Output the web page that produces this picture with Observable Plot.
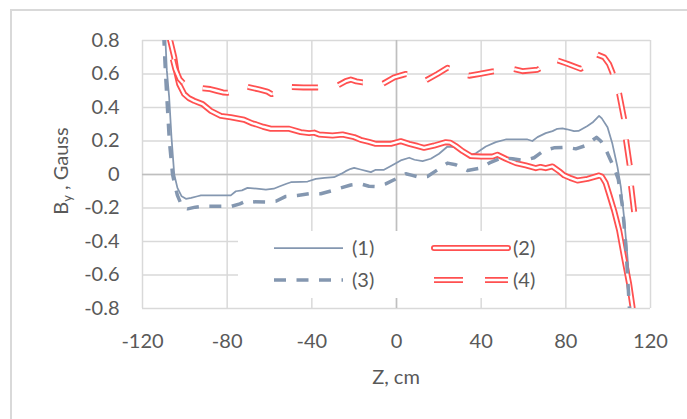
<!DOCTYPE html>
<html><head><meta charset="utf-8">
<script src="https://cdn.jsdelivr.net/npm/d3@7"></script>
<script src="https://cdn.jsdelivr.net/npm/@observablehq/plot@0.6"></script>
<style>
body{margin:0;background:#fff;}
#chart{position:absolute;left:0;top:0;width:687px;height:419px;overflow:hidden;}
</style></head><body>
<div id="chart"></div>
<script>
// ---- data: [Z (cm), By (Gauss)] ----
const seriesNames = ["(1)", "(2)", "(3)", "(4)"];
const xTicks = [-120, -80, -40, 0, 40, 80, 120];
const yTicks = [-0.8, -0.6, -0.4, -0.2, 0, 0.2, 0.4, 0.6, 0.8];

const series1 = [[-109.3,0.84],[-108.5,0.62],[-107.4,0.46],[-106.3,0.22],[-105,0.0],[-103.5,-0.08],[-101.5,-0.13],[-99.5,-0.145],[-97,-0.14],[-94,-0.13],[-92.4,-0.125],[-85,-0.125],[-78.3,-0.125],[-75.9,-0.10],[-73,-0.095],[-70.4,-0.08],[-66,-0.085],[-61.7,-0.09],[-58,-0.085],[-55.4,-0.072],[-52,-0.055],[-49.9,-0.046],[-45,-0.044],[-42,-0.042],[-38.1,-0.026],[-34,-0.02],[-29.5,-0.016],[-26,0.005],[-24,0.02],[-21.6,0.034],[-20,0.04],[-17,0.03],[-14,0.02],[-12.1,0.014],[-9.8,0.028],[-5.9,0.028],[-2,0.055],[2,0.084],[6,0.1],[8.5,0.088],[12.3,0.08],[16.2,0.094],[20.1,0.124],[24.1,0.167],[27.2,0.163],[30.4,0.143],[34.3,0.113],[37.5,0.127],[42.2,0.167],[46.9,0.193],[51.6,0.209],[56,0.21],[61.9,0.209],[64.2,0.2],[66.6,0.223],[70.5,0.247],[73.7,0.259],[76,0.273],[78.4,0.275],[80.5,0.27],[83.9,0.259],[86,0.26],[90.2,0.29],[92.6,0.31],[95.7,0.35],[97,0.335],[99.7,0.282],[102,0.183],[104.4,0.044],[106,-0.076],[107.5,-0.255],[109.1,-0.49],[110.7,-0.77],[111.3,-0.86]];

const series2 = [[-107.5,0.86],[-106.9,0.8],[-105,0.70],[-103.8,0.6],[-102.7,0.54],[-100.3,0.48],[-98,0.455],[-95.6,0.44],[-91.6,0.42],[-87.7,0.38],[-83,0.35],[-78.3,0.342],[-72,0.327],[-68,0.305],[-66.5,0.30],[-63,0.285],[-59.4,0.273],[-50.7,0.273],[-45.2,0.253],[-41.3,0.247],[-38.9,0.25],[-36.6,0.239],[-30.2,0.233],[-25.5,0.239],[-20,0.223],[-16.9,0.207],[-13,0.195],[-9.8,0.183],[-2.7,0.183],[2,0.199],[6,0.183],[10,0.17],[13,0.159],[17.8,0.173],[23.3,0.193],[25.5,0.19],[28,0.17],[31.2,0.14],[35.1,0.11],[40,0.107],[45.3,0.107],[47.7,0.118],[51.6,0.094],[56.4,0.068],[61.1,0.054],[65.8,0.038],[68,0.045],[70.5,0.038],[73.7,0.048],[76.8,0.02],[79.2,-0.005],[82,-0.02],[85.5,-0.036],[90.2,-0.026],[95.7,-0.006],[97,-0.012],[98.8,-0.05],[100.4,-0.115],[102.8,-0.215],[105.2,-0.334],[107.5,-0.494],[109.9,-0.653],[111.5,-0.79],[111.8,-0.86]];

const series3 = [[-110,0.84],[-109.2,0.62],[-108.5,0.46],[-107.3,0.2],[-105.8,0.0],[-104.6,-0.07],[-103.5,-0.125],[-102,-0.17],[-101,-0.195],[-98.7,-0.205],[-95,-0.195],[-92,-0.19],[-85,-0.19],[-78,-0.19],[-74,-0.175],[-70.4,-0.155],[-68,-0.163],[-61.7,-0.165],[-57,-0.16],[-52.3,-0.131],[-46.8,-0.125],[-41.3,-0.115],[-35.8,-0.115],[-30.2,-0.096],[-26.3,-0.08],[-21.6,-0.063],[-16.9,-0.056],[-13,-0.07],[-9.8,-0.072],[-5.1,-0.056],[-0.3,-0.026],[4.4,0.004],[7.5,-0.005],[10.7,-0.016],[14.6,-0.012],[20.1,0.034],[24.1,0.068],[28,0.058],[33.5,0.024],[39.8,0.038],[44.5,0.073],[50,0.1],[54.8,0.094],[60.3,0.084],[65,0.1],[69.7,0.143],[74.4,0.159],[80,0.163],[84.7,0.153],[89.4,0.173],[94.5,0.222],[96.5,0.2],[98.5,0.16],[101,0.09],[103,0.035],[104.8,-0.03],[106.8,-0.195],[108.3,-0.414],[109.9,-0.77],[110.3,-0.86]];

const series4 = [[-108.2,0.95],[-107.5,0.82],[-106.3,0.72],[-104.5,0.63],[-102.5,0.57],[-100.3,0.54],[-97,0.525],[-94,0.518],[-91.6,0.515],[-88,0.51],[-85,0.5],[-82,0.49],[-79.8,0.488],[-75,0.51],[-71,0.525],[-65,0.508],[-61,0.495],[-59,0.48],[-55,0.5],[-50,0.522],[-44,0.52],[-37.3,0.52],[-32,0.525],[-27.9,0.53],[-24,0.557],[-21.6,0.567],[-19,0.556],[-16,0.55],[-11,0.55],[-6.6,0.54],[-1.1,0.58],[4.4,0.60],[9,0.59],[13.8,0.561],[19.3,0.60],[24.1,0.637],[29,0.61],[34.3,0.59],[39,0.60],[45.3,0.615],[50,0.62],[54.8,0.631],[59.5,0.617],[66.6,0.625],[71,0.66],[75.2,0.685],[80.8,0.661],[87,0.631],[91,0.66],[94.9,0.716],[98.1,0.70],[100.4,0.66],[102,0.61],[105.2,0.482],[107.5,0.333],[108.5,0.2],[110.3,0.044],[110.8,-0.066],[112.3,-0.225]];

// ---- styles ----
const blue = "#8497b0";
const red = "#ff5050";
const dash3 = "12,10.5";
// where the dashes of series (4) begin (first and tenth dash), used to phase the dash pattern
const dashAnchorZ4 = [-91.6, 94.9];
const dashFraction4 = 0.56;

const rows = (s) => s.map(([z, b]) => ({z, b}));
const r1 = rows(series1), r2 = rows(series2), r3 = rows(series3), r4 = rows(series4);

function build(dash4, off4) {
  return Plot.plot({
    width: 687, height: 419,
    marginLeft: 142, marginRight: 37, marginTop: 40, marginBottom: 111,
    style: {fontFamily: "Lato, sans-serif", fontSize: "20px", color: "#595959", background: "transparent", overflow: "visible"},
    x: {domain: [-120, 120], ticks: xTicks, tickSize: 0, tickPadding: 25, label: null, tickFormat: d => String(d)},
    y: {domain: [-0.8, 0.8], ticks: yTicks, tickSize: 0, tickPadding: 23, label: null, tickFormat: d => d === 0 ? "0" : d.toFixed(1)},
    marks: [
      Plot.gridX(xTicks, {stroke: "#d9d9d9", strokeOpacity: 1, strokeWidth: 1.5}),
      Plot.gridY(yTicks, {stroke: "#d9d9d9", strokeOpacity: 1, strokeWidth: 1.5}),
      Plot.ruleX([0], {stroke: "#bfbfbf", strokeWidth: 1.5}),
      Plot.ruleY([0], {stroke: "#bfbfbf", strokeWidth: 1.5}),
      Plot.line(r1, {x: "z", y: "b", stroke: blue, strokeWidth: 1.75, clip: true}),
      Plot.line(r2, {x: "z", y: "b", stroke: red, strokeWidth: 6, clip: true}),
      Plot.line(r2, {x: "z", y: "b", stroke: "white", strokeWidth: 2.4, clip: true}),
      Plot.line(r3, {x: "z", y: "b", stroke: blue, strokeWidth: 3.5, strokeDasharray: dash3, strokeLinecap: "butt", clip: true}),
      Plot.line(r4, {x: "z", y: "b", stroke: red, strokeWidth: 6, strokeDasharray: dash4, strokeDashoffset: off4, strokeLinecap: "butt", clip: true}),
      Plot.line(r4, {x: "z", y: "b", stroke: "white", strokeWidth: 2.4, strokeDasharray: dash4, strokeDashoffset: off4, strokeLinecap: "butt", clip: true})
    ]
  });
}

// phase the dash pattern of series (4) using the plot's own scales
const probe = build("25,19.5", 0);
const sx = probe.scale("x"), sy = probe.scale("y");
const cum = [0];
for (let i = 1; i < r4.length; i++) {
  const dx = sx.apply(r4[i].z) - sx.apply(r4[i - 1].z);
  const dy = sy.apply(r4[i].b) - sy.apply(r4[i - 1].b);
  cum.push(cum[i - 1] + Math.hypot(dx, dy));
}
function lenAt(z) {
  for (let i = 1; i < r4.length; i++) {
    if (z <= r4[i].z) {
      const t = (z - r4[i - 1].z) / (r4[i].z - r4[i - 1].z);
      return cum[i - 1] + t * (cum[i] - cum[i - 1]);
    }
  }
  return cum[cum.length - 1];
}
const sA = lenAt(dashAnchorZ4[0]), sB = lenAt(dashAnchorZ4[1]);
const period = (sB - sA) / 9;
const dash4 = `${(period * dashFraction4).toFixed(2)},${(period * (1 - dashFraction4)).toFixed(2)}`;
const off4 = (((-sA) % period) + period) % period;

const plot = build(dash4, off4);
document.getElementById("chart").appendChild(plot);

const svg = d3.select(plot);
// outer chart border
svg.insert("rect", ":first-child").attr("x", 11).attr("y", 10).attr("width", 700).attr("height", 440)
  .attr("fill", "none").attr("stroke", "#d9d9d9").attr("stroke-width", 2);

// axis titles
const yt = svg.append("text").attr("transform", "translate(68,171) rotate(-90)")
  .attr("text-anchor", "middle").attr("fill", "#595959").style("font-size", "20px");
yt.append("tspan").text("B");
yt.append("tspan").style("font-size", "13px").attr("dy", 4).text("y");
yt.append("tspan").attr("dy", -4).text(" , Gauss");
svg.append("text").attr("x", 396).attr("y", 384).attr("text-anchor", "middle")
  .attr("fill", "#595959").style("font-size", "20px").text("Z, cm");

// legend
const lg = svg.append("g").attr("text-anchor", "start");
lg.append("rect").attr("x", 238).attr("y", 231).attr("width", 327).attr("height", 67).attr("fill", "white");
const legendItems = [
  {name: seriesNames[0], x: 274, y: 248, strokes: [{c: blue, w: 1.75, d: null}]},
  {name: seriesNames[1], x: 434, y: 248, strokes: [{c: red, w: 6, d: null, cap: "round"}, {c: "white", w: 2.4, d: null, cap: "round"}]},
  {name: seriesNames[2], x: 274, y: 280, strokes: [{c: blue, w: 3.5, d: dash3}]},
  {name: seriesNames[3], x: 434, y: 280, strokes: [{c: red, w: 6, d: "29,22"}, {c: "white", w: 2.4, d: "29,22"}]}
];
for (const it of legendItems) {
  const len = it.x < 400 ? 69 : 74;
  for (const s of it.strokes) {
    lg.append("line").attr("x1", it.x).attr("x2", it.x + len).attr("y1", it.y).attr("y2", it.y)
      .attr("stroke", s.c).attr("stroke-width", s.w)
      .attr("stroke-dasharray", s.d).attr("stroke-linecap", s.cap || "butt");
  }
  lg.append("text").attr("x", it.x < 400 ? 352 : 513).attr("y", it.y).attr("dy", "0.35em")
    .attr("fill", "#595959").style("font-size", "20px").text(it.name);
}
</script>
</body></html>
